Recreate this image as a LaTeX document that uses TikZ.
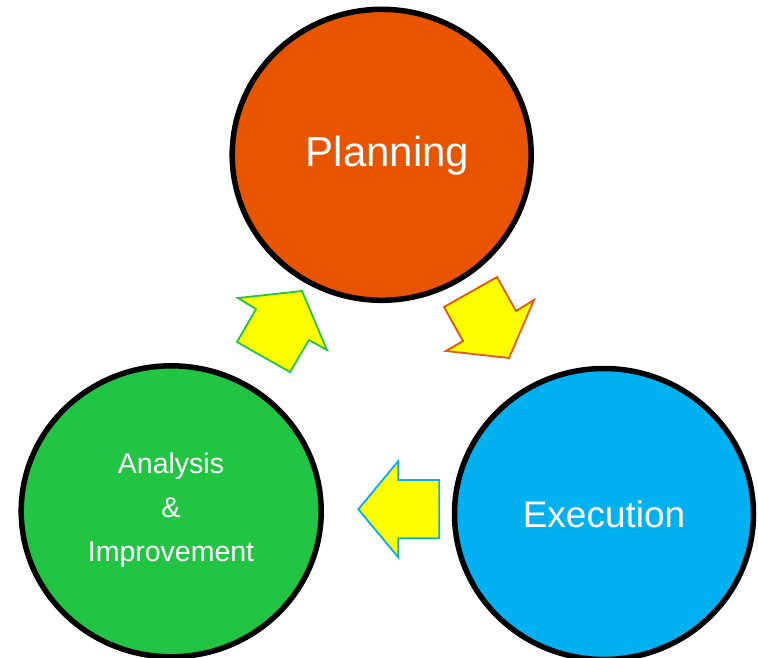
\documentclass[tikz,border=0pt]{standalone}
\usepackage{fontspec}
\setmainfont{Liberation Sans}
\definecolor{cplan}{HTML}{E85400}
\definecolor{cexec}{HTML}{00B0F0}
\definecolor{cana}{HTML}{22C444}
\definecolor{cyel}{HTML}{FFFF00}
\tikzset{
  ring/.style={line width=5.5pt, draw=black},
  blockarrow/.style={fill=cyel, line width=1.8pt, line join=miter},
  lbl/.style={text=white, align=center, inner sep=0pt}
}
\begin{document}
\begin{tikzpicture}[x=1pt,y=-1pt]
\useasboundingbox (0,0) rectangle (758,657);
% circles
\fill[cplan] (381.7,154.8) ellipse [x radius=149.5, y radius=145.5];
\draw[ring] (381.7,154.8) ellipse [x radius=149.5, y radius=145.5];
\fill[cana] (171.2,511.3) ellipse [x radius=150, y radius=145.5];
\draw[ring] (171.2,511.3) ellipse [x radius=150, y radius=145.5];
\fill[cexec] (604,514) ellipse [x radius=149.5, y radius=145.5];
\draw[ring] (604,514) ellipse [x radius=149.5, y radius=145.5];
% labels
\node[lbl, font=\fontsize{42}{48}\selectfont] (plan) at (387.5,155.5) {Planning};
\node[lbl, font=\fontsize{37}{42}\selectfont] (exec) at (604,514) {Execution};
\node[lbl, font=\fontsize{28.5}{44}\selectfont] (ana) at (171,510.5) {Analysis\\\&\\Improvement};
% arrows
\draw[blockarrow, draw=cana] (302,291) -- (327,350) -- (309,340) -- (290,372) -- (237,342) -- (256,309) -- (238,298) -- cycle;
\draw[blockarrow, draw=cplan] (509,358) -- (446,351) -- (463,341) -- (444,307) -- (497,277) -- (516,311) -- (534,300) -- cycle;
\draw[blockarrow, draw=cexec] (358.3,509.3) -- (398.3,461) -- (398.3,480) -- (439.3,480) -- (439.3,538.3) -- (398.3,538.3) -- (398.3,557.3) -- cycle;
\end{tikzpicture}
\end{document}
